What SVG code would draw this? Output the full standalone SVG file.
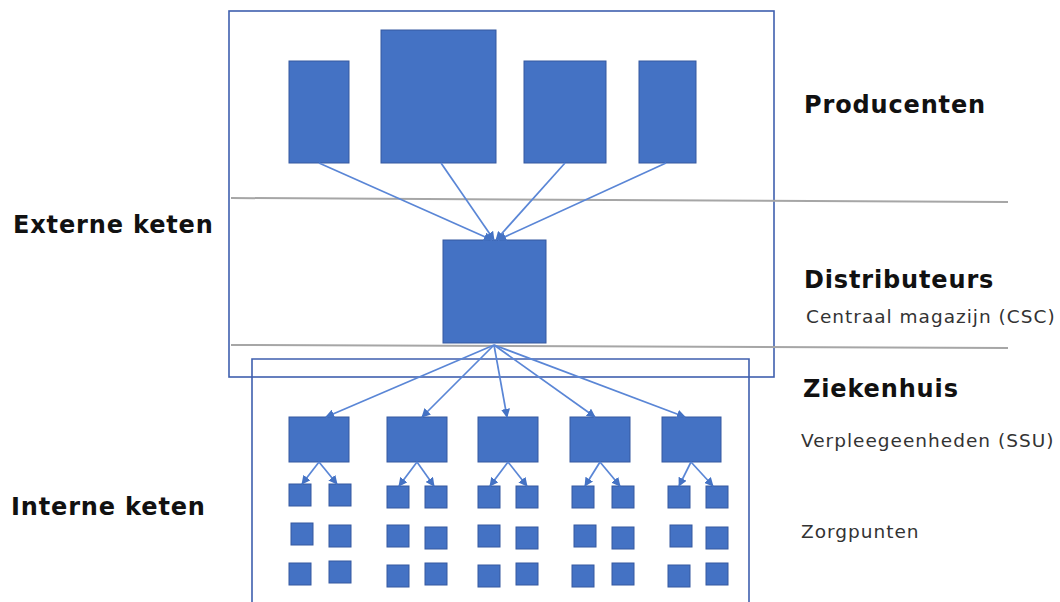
<svg xmlns="http://www.w3.org/2000/svg" width="1060" height="602" viewBox="0 0 1060 602">
  <style>
    .blk { fill: #4472C4; stroke: #3558A0; stroke-width: 1; }
    .frame { fill: none; stroke: #3F5FAE; stroke-width: 1.6; }
    .sep { stroke: #A6A6A6; stroke-width: 2; fill: none; }
    .link { stroke: #5A86D6; stroke-width: 1.7; fill: none; marker-end: url(#arrow); }
    .head { font-family: "DejaVu Sans", Verdana, sans-serif; font-weight: bold; font-size: 24px; letter-spacing: 0.85px; fill: #111; }
    .sub { font-family: "DejaVu Sans", Verdana, sans-serif; font-size: 18.5px; letter-spacing: 1px; fill: #333; }
  </style>
  <defs>
    <marker id="arrow" viewBox="0 0 10 10" refX="9" refY="5" markerWidth="9" markerHeight="9" markerUnits="userSpaceOnUse" orient="auto">
      <path d="M0,0 L10,5 L0,10 z" fill="#4472C4"/>
    </marker>
  </defs>

  <rect width="1060" height="602" fill="#fff"/>

  <!-- chain frames and layer separators -->
  <g id="frames">
    <rect id="external-frame" class="frame" x="229" y="11" width="545" height="366"/>
    <path id="internal-frame" class="frame" d="M252,602 V359 H749 V602"/>
    <line class="sep" x1="231" y1="198" x2="1008" y2="202"/>
    <line class="sep" x1="231" y1="345" x2="1008" y2="348"/>
  </g>

  <!-- producers -->
  <g id="producer-1"><rect class="blk" x="289" y="61" width="60" height="102"/></g>
  <g id="producer-2"><rect class="blk" x="381" y="30" width="115" height="133"/></g>
  <g id="producer-3"><rect class="blk" x="524" y="61" width="82" height="102"/></g>
  <g id="producer-4"><rect class="blk" x="639" y="61" width="57" height="102"/></g>

  <!-- central warehouse -->
  <g id="distributor"><rect class="blk" x="443" y="240" width="103" height="103"/></g>

  <!-- nursing units -->
  <g id="ssu-1"><rect class="blk" x="289" y="417" width="60" height="45"/></g>
  <g id="ssu-2"><rect class="blk" x="387" y="417" width="60" height="45"/></g>
  <g id="ssu-3"><rect class="blk" x="478" y="417" width="60" height="45"/></g>
  <g id="ssu-4"><rect class="blk" x="570" y="417" width="60" height="45"/></g>
  <g id="ssu-5"><rect class="blk" x="662" y="417" width="59" height="45"/></g>

  <!-- care points, per nursing unit -->
  <g id="care-points-1">
    <rect class="blk" x="289" y="484" width="22" height="22"/>
    <rect class="blk" x="329" y="484" width="22" height="22"/>
    <rect class="blk" x="291" y="523" width="22" height="22"/>
    <rect class="blk" x="329" y="525" width="22" height="22"/>
    <rect class="blk" x="289" y="563" width="22" height="22"/>
    <rect class="blk" x="329" y="561" width="22" height="22"/>
  </g>
  <g id="care-points-2">
    <rect class="blk" x="387" y="486" width="22" height="22"/>
    <rect class="blk" x="425" y="486" width="22" height="22"/>
    <rect class="blk" x="387" y="525" width="22" height="22"/>
    <rect class="blk" x="425" y="527" width="22" height="22"/>
    <rect class="blk" x="387" y="565" width="22" height="22"/>
    <rect class="blk" x="425" y="563" width="22" height="22"/>
  </g>
  <g id="care-points-3">
    <rect class="blk" x="478" y="486" width="22" height="22"/>
    <rect class="blk" x="516" y="486" width="22" height="22"/>
    <rect class="blk" x="478" y="525" width="22" height="22"/>
    <rect class="blk" x="516" y="527" width="22" height="22"/>
    <rect class="blk" x="478" y="565" width="22" height="22"/>
    <rect class="blk" x="516" y="563" width="22" height="22"/>
  </g>
  <g id="care-points-4">
    <rect class="blk" x="572" y="486" width="22" height="22"/>
    <rect class="blk" x="612" y="486" width="22" height="22"/>
    <rect class="blk" x="574" y="525" width="22" height="22"/>
    <rect class="blk" x="612" y="527" width="22" height="22"/>
    <rect class="blk" x="572" y="565" width="22" height="22"/>
    <rect class="blk" x="612" y="563" width="22" height="22"/>
  </g>
  <g id="care-points-5">
    <rect class="blk" x="668" y="486" width="22" height="22"/>
    <rect class="blk" x="706" y="486" width="22" height="22"/>
    <rect class="blk" x="670" y="525" width="22" height="22"/>
    <rect class="blk" x="706" y="527" width="22" height="22"/>
    <rect class="blk" x="668" y="565" width="22" height="22"/>
    <rect class="blk" x="706" y="563" width="22" height="22"/>
  </g>

  <!-- flows -->
  <g id="connectors">
    <line class="link" x1="319" y1="163" x2="492" y2="240"/>
    <line class="link" x1="441" y1="163" x2="494" y2="240"/>
    <line class="link" x1="565" y1="163" x2="496" y2="240"/>
    <line class="link" x1="666" y1="163" x2="498" y2="240"/>

    <line class="link" x1="494" y1="345" x2="326" y2="417"/>
    <line class="link" x1="494" y1="345" x2="422" y2="417"/>
    <line class="link" x1="494" y1="345" x2="507" y2="417"/>
    <line class="link" x1="494" y1="345" x2="595" y2="417"/>
    <line class="link" x1="494" y1="345" x2="685" y2="417"/>

    <line class="link" x1="319" y1="462" x2="302" y2="484"/>
    <line class="link" x1="319" y1="462" x2="337" y2="484"/>
    <line class="link" x1="417" y1="462" x2="399" y2="486"/>
    <line class="link" x1="417" y1="462" x2="434" y2="486"/>
    <line class="link" x1="508" y1="462" x2="490" y2="486"/>
    <line class="link" x1="508" y1="462" x2="527" y2="486"/>
    <line class="link" x1="600" y1="462" x2="585" y2="486"/>
    <line class="link" x1="600" y1="462" x2="620" y2="486"/>
    <line class="link" x1="691" y1="462" x2="679" y2="486"/>
    <line class="link" x1="691" y1="462" x2="713" y2="486"/>
  </g>

  <!-- labels -->
  <g id="labels">
    <text class="head" x="13" y="233">Externe keten</text>
    <text class="head" x="11" y="515">Interne keten</text>
    <text class="head" x="804" y="113">Producenten</text>
    <text class="head" x="804" y="288">Distributeurs</text>
    <text class="sub" x="806" y="323">Centraal magazijn (CSC)</text>
    <text class="head" x="803" y="397">Ziekenhuis</text>
    <text class="sub" x="801" y="447">Verpleegeenheden (SSU)</text>
    <text class="sub" x="801" y="538">Zorgpunten</text>
  </g>
</svg>
